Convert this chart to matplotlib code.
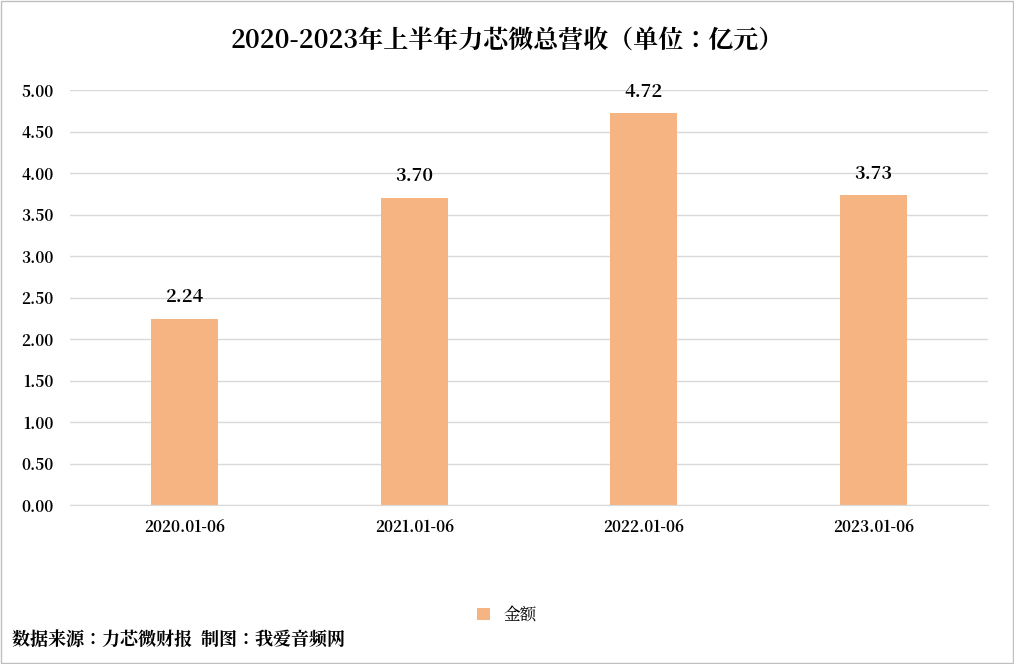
import matplotlib.pyplot as plt
from matplotlib import font_manager
from matplotlib.patches import Rectangle

# pick whatever CJK family matplotlib actually registered
cjk = [f.name for f in font_manager.fontManager.ttflist if "CJK" in f.name]
pref = [n for n in cjk if n.endswith("SC")] or cjk
plt.rcParams["font.family"] = "sans-serif"
plt.rcParams["font.sans-serif"] = (pref[:1] if pref else []) + ["DejaVu Sans"]

periods = ["2020.01-06", "2021.01-06", "2022.01-06", "2023.01-06"]
revenue = [2.24, 3.70, 4.72, 3.73]
yticks = [0, 0.5, 1, 1.5, 2, 2.5, 3, 3.5, 4, 4.5, 5]

fig = plt.figure(figsize=(10.14, 6.64), dpi=100)
ax = fig.add_axes([70 / 1014, 1 - 505 / 664, 918 / 1014, 415 / 664])

x = range(len(periods))
bars = ax.bar(x, revenue, width=0.29, color="#F5B482", label="金额", zorder=2)
for xi, v in zip(x, revenue):
    ax.text(xi, v + 0.14, f"{v:.2f}", ha="center", va="bottom",
            fontsize=13, fontweight="bold")

ax.set_xlim(-0.5, len(periods) - 0.5)
ax.set_ylim(0, 5)
ax.set_yticks(yticks)
ax.set_yticklabels([f"{t:.2f}" for t in yticks], fontsize=11, fontweight="bold")
ax.set_xticks(list(x))
ax.set_xticklabels(periods, fontsize=11, fontweight="bold")
ax.tick_params(length=0, pad=10)
ax.tick_params(axis="y", pad=12)
ax.grid(axis="y", color="#D9D9D9", linewidth=1, zorder=0)
for side in ("top", "right", "left"):
    ax.spines[side].set_visible(False)
ax.spines["bottom"].set_color("#D9D9D9")

fig.text(0.5, 1 - 42 / 664, "2020-2023年上半年力芯微总营收（单位：亿元）",
         ha="center", va="center", fontsize=18, fontweight="bold")
fig.legend(handles=[bars], loc="center", bbox_to_anchor=(0.5, 1 - 615 / 664),
           frameon=False, fontsize=12, handlelength=0.8, handleheight=0.8)
fig.text(12 / 1014, 1 - 640 / 664, "数据来源：力芯微财报  制图：我爱音频网",
         ha="left", va="center", fontsize=13, fontweight="bold")
fig.patches.append(Rectangle((0.001, 0.001), 0.998, 0.998, transform=fig.transFigure,
                             fill=False, edgecolor="#BFBFBF", linewidth=1))

fig.savefig("out.png", dpi=100)
